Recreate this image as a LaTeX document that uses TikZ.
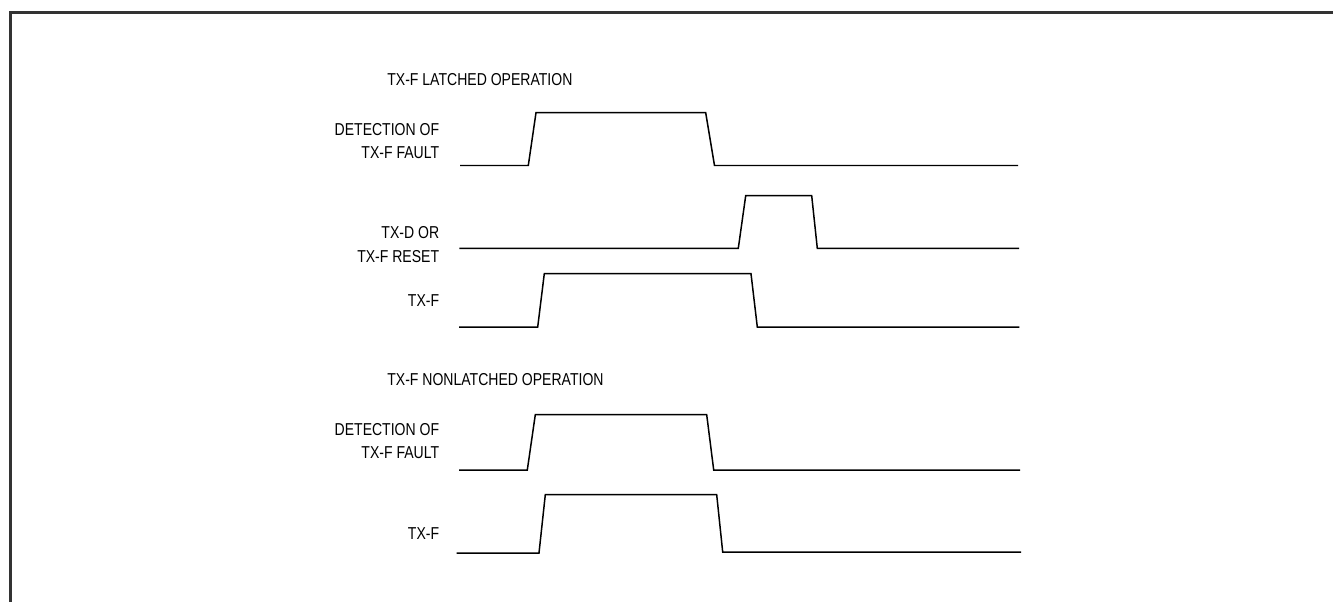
\documentclass[tikz,border=0pt]{standalone}
\usepackage{fontspec}
\newfontfamily\diagfont{Liberation Sans}[FakeStretch=0.815]

\begin{document}
\begin{tikzpicture}[x=0.02cm, y=-0.02cm,
    lbl/.style={font=\diagfont\fontsize{9.8}{13.2}\selectfont, inner sep=0pt, align=right},
    wave/.style={line width=0.85pt, line join=miter}]
    \useasboundingbox (0,0) rectangle (1333,602);
    \draw[line width=1.3pt, black!80] (10.5,602) -- (10.5,12.5) -- (1333,12.5);

    % latched
    \node[lbl, anchor=base west] (latched) at (387,85) {TX-F LATCHED OPERATION};
    \node[lbl, anchor=east] (detA) at (439.5,141) {DETECTION OF\\TX-F FAULT};
    \node[lbl, anchor=east] (reset) at (439.5,244.5) {TX-D OR\\TX-F RESET};
    \node[lbl, anchor=base east] (txfA) at (439.5,306) {TX-F};

    \draw[wave] (460,165.5) -- (528.3,165.5) -- (536,112.7) -- (705.7,112.7) -- (714.5,165.5) -- (1018,165.5);
    \draw[wave] (459.3,248.3) -- (738.3,248.3) -- (745.7,195.7) -- (811.7,195.7) -- (817.3,248.3) -- (1019,248.3);
    \draw[wave] (459,327) -- (537.7,327) -- (544.3,273.7) -- (751,273.7) -- (757.3,327) -- (1019.3,327);

    % nonlatched
    \node[lbl, anchor=base west] (nonlatched) at (387,385.7) {TX-F NONLATCHED OPERATION};
    \node[lbl, anchor=east] (detB) at (439.5,441) {DETECTION OF\\TX-F FAULT};
    \node[lbl, anchor=base east] (txfB) at (439.5,539.3) {TX-F};

    \draw[wave] (459,470) -- (527.3,470) -- (535.3,414.7) -- (706.7,414.7) -- (713.7,470) -- (1020,470);
    \draw[wave] (456.7,553) -- (539,553) -- (545.3,494.7) -- (716.7,494.7) -- (722.7,552) -- (1021,552);
\end{tikzpicture}
\end{document}
